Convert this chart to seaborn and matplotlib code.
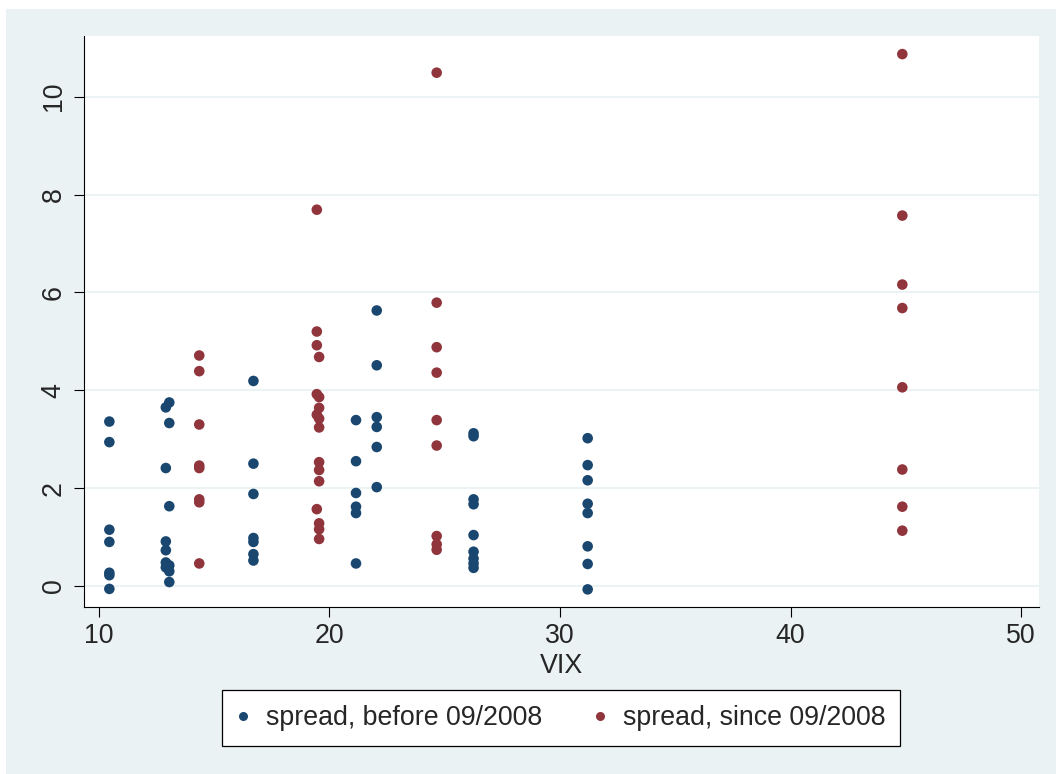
import matplotlib
matplotlib.use("Agg")
import matplotlib.pyplot as plt
from matplotlib.lines import Line2D
from matplotlib.patches import Rectangle
import numpy as np
import pandas as pd
import seaborn as sns

# Spread against VIX, before and since 09/2008
before_vix = [
    10.45, 10.45, 10.45, 10.45, 10.45, 10.45, 10.45,
    12.90, 12.90, 12.90, 12.90, 12.90, 12.90,
    13.05, 13.05, 13.05, 13.05, 13.05, 13.05,
    16.70, 16.70, 16.70, 16.70, 16.70, 16.70, 16.70,
    21.15, 21.15, 21.15, 21.15, 21.15, 21.15,
    22.05, 22.05, 22.05, 22.05, 22.05, 22.05,
    26.25, 26.25, 26.25, 26.25, 26.25, 26.25, 26.25, 26.25, 26.25,
    31.20, 31.20, 31.20, 31.20, 31.20, 31.20, 31.20, 31.20,
]
before_spread = [
    3.36, 2.94, 1.15, 0.90, 0.27, 0.22, -0.06,
    3.65, 2.41, 0.91, 0.73, 0.48, 0.38,
    3.75, 3.33, 1.63, 0.42, 0.30, 0.08,
    4.19, 2.50, 1.88, 0.98, 0.90, 0.65, 0.52,
    3.39, 2.55, 1.90, 1.62, 1.49, 0.46,
    5.63, 4.51, 3.45, 3.25, 2.84, 2.02,
    3.12, 3.06, 1.77, 1.67, 1.04, 0.70, 0.56, 0.46, 0.37,
    3.02, 2.47, 2.16, 1.68, 1.49, 0.81, 0.45, -0.07,
]
since_vix = [
    14.35, 14.35, 14.35, 14.35, 14.35, 14.35, 14.35, 14.35,
    19.45, 19.45, 19.45, 19.45, 19.45, 19.45,
    19.55, 19.55, 19.55, 19.55, 19.55, 19.55, 19.55, 19.55, 19.55, 19.55, 19.55,
    24.65, 24.65, 24.65, 24.65, 24.65, 24.65, 24.65, 24.65, 24.65,
    44.85, 44.85, 44.85, 44.85, 44.85, 44.85, 44.85, 44.85,
]
since_spread = [
    4.71, 4.39, 3.30, 2.46, 2.41, 1.77, 1.71, 0.46,
    7.69, 5.20, 4.92, 3.92, 3.50, 1.57,
    4.68, 3.86, 3.64, 3.42, 3.24, 2.53, 2.37, 2.14, 1.28, 1.16, 0.96,
    10.49, 5.79, 4.88, 4.36, 3.39, 2.87, 1.02, 0.85, 0.74,
    10.87, 7.57, 6.16, 5.68, 4.06, 2.38, 1.62, 1.13,
]
series_labels = ["spread, before 09/2008", "spread, since 09/2008"]
x_ticks = [10, 20, 30, 40, 50]
y_ticks = [0, 2, 4, 6, 8, 10]

navy = "#1A476F"
maroon = "#90353B"
panel_bg = "#EAF2F3"

df = pd.concat([
    pd.DataFrame({"VIX": before_vix, "spread": before_spread, "series": series_labels[0]}),
    pd.DataFrame({"VIX": since_vix, "spread": since_spread, "series": series_labels[1]}),
], ignore_index=True)

sns.set_style("white")
plt.rcParams["font.family"] = ["Liberation Sans", "DejaVu Sans"]

fig = plt.figure(figsize=(10.56, 7.74), dpi=100, facecolor="white")
fig.patches.append(Rectangle((6 / 1056, 0), 1 - 6 / 1056, 1 - 9 / 774,
                             transform=fig.transFigure, facecolor=panel_bg,
                             edgecolor="none", zorder=-10))
ax = fig.add_axes([84 / 1056, 1 - 607 / 774, (1039 - 84) / 1056, (607 - 36) / 774])
ax.set_facecolor("white")

for yv in y_ticks:
    ax.axhline(yv, color=panel_bg, lw=1.3, zorder=0)

sns.scatterplot(data=df, x="VIX", y="spread", hue="series",
                palette=[navy, maroon], hue_order=series_labels,
                s=58, linewidth=0, edgecolor="none", legend=False,
                ax=ax, zorder=3)

ax.set_xlim(9.35, 50.78)
ax.set_ylim(-0.43, 11.24)
ax.set_xticks(x_ticks)
ax.set_yticks(y_ticks)
ax.set_xticklabels([str(v) for v in x_ticks], fontsize=19.3)
ax.set_yticklabels([str(v) for v in y_ticks], fontsize=19.3, rotation=90, va="center")
ax.tick_params(axis="both", direction="out", length=7.5, width=0.8, color="black",
               left=True, bottom=True)
ax.tick_params(axis="x", pad=4)
ax.tick_params(axis="y", pad=5)
ax.set_xlabel("VIX", fontsize=19.3, labelpad=3)
ax.set_ylabel("")

for side in ["top", "right"]:
    ax.spines[side].set_visible(False)
for side in ["left", "bottom"]:
    ax.spines[side].set_color("black")
    ax.spines[side].set_linewidth(0.8)

handles = [
    Line2D([], [], linestyle="none", marker="o", markersize=6.5,
           markerfacecolor=c, markeredgecolor="none")
    for c in (navy, maroon)
]
leg = fig.legend(handles, series_labels, loc="center",
                 bbox_to_anchor=(561 / 1056, 1 - 718 / 774), ncol=2,
                 fontsize=19.3, frameon=True, fancybox=False, framealpha=1,
                 edgecolor="black", borderpad=0.55, handlelength=0.5,
                 handletextpad=0.6, columnspacing=1.9)
leg.get_frame().set_linewidth(0.9)
leg.get_frame().set_facecolor("white")

fig.savefig("out.png", dpi=100, facecolor=fig.get_facecolor())
